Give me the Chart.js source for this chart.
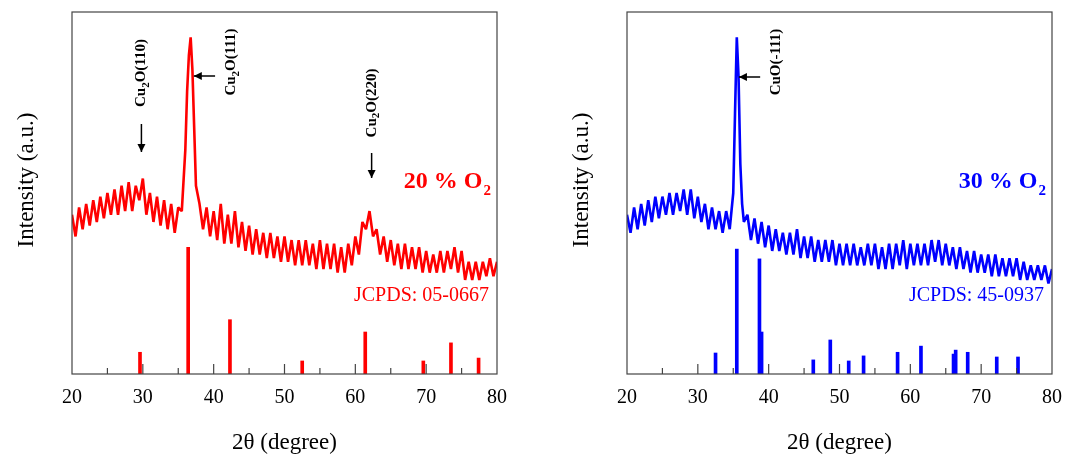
<!DOCTYPE html>
<html>
<head>
<meta charset="utf-8">
<script src="https://cdn.jsdelivr.net/npm/chart.js@4.4.1/dist/chart.umd.min.js"></script>
<style>
  body { margin: 0; background: #fff; width: 1065px; height: 458px; overflow: hidden; position: relative; }
  .box { position: absolute; top: 0; height: 458px; }
</style>
</head>
<body>
<div class="box" style="left:0;width:540px"><canvas id="xrd20"></canvas></div>
<div class="box" style="left:555px;width:510px"><canvas id="xrd30"></canvas></div>
<script>
var xTicks = [20, 30, 40, 50, 60, 70, 80];

// measured scan, 20 % O2 : [2theta, intensity]
var scan20 = [
  [20,44],[20.5,38],[21,46],[21.5,40],[22,47],[22.5,41],[23,48],[23.5,42],[24,49],[24.5,43],
  [25,50],[25.5,44],[26,51],[26.5,44],[27,52],[27.5,45],[28,53],[28.5,45],[29,52],[29.5,48],
  [30,54],[30.5,44],[31,50],[31.5,42],[32,49],[32.5,41],[33,48],[33.5,40],[34,47],[34.5,39],
  [35,46],[35.5,45],[36,62],[36.25,78],[36.5,88],[36.75,93],[37,84],[37.25,68],[37.5,52],[38,47],
  [38.5,40],[39,46],[39.5,38],[40,45],[40.5,37],[41,47],[41.5,36],[42,44],[42.5,36],[43,45],
  [43.5,35],[44,42],[44.5,34],[45,41],[45.5,33],[46,40],[46.5,33],[47,39],[47.5,32],[48,39],
  [48.5,32],[49,38],[49.5,31],[50,38],[50.5,31],[51,37],[51.5,30],[52,37],[52.5,30],[53,37],
  [53.5,30],[54,36],[54.5,29],[55,37],[55.5,29],[56,36],[56.5,29],[57,36],[57.5,28],[58,35],
  [58.5,28],[59,36],[59.5,30],[60,38],[60.5,33],[61,42],[61.5,40],[62,45],[62.5,38],[63,40],
  [63.5,33],[64,38],[64.5,31],[65,37],[65.5,30],[66,36],[66.5,29],[67,36],[67.5,29],[68,35],
  [68.5,29],[69,35],[69.5,28],[70,34],[70.5,28],[71,33],[71.5,28],[72,34],[72.5,28],[73,34],
  [73.5,29],[74,35],[74.5,28],[75,34],[75.5,26],[76,31],[76.5,26],[77,31],[77.5,26],[78,31],
  [78.5,27],[79,32],[79.5,27],[80,31]
];
// JCPDS 05-0667 reference lines
var ref20 = [[29.6,6],[36.4,35],[42.3,15],[52.5,3.6],[61.4,11.6],[69.6,3.6],[73.5,8.6],[77.4,4.4]];

// measured scan, 30 % O2
var scan30 = [
  [20,44],[20.5,39],[21,46],[21.5,40],[22,47],[22.5,41],[23,48],[23.5,42],[24,49],[24.5,43],
  [25,49],[25.5,44],[26,50],[26.5,44],[27,50],[27.5,45],[28,51],[28.5,44],[29,51],[29.5,43],
  [30,49],[30.5,42],[31,47],[31.5,40],[32,46],[32.5,40],[33,45],[33.5,39],[34,45],[34.5,40],
  [35,50],[35.25,72],[35.5,93],[35.75,82],[36,58],[36.25,47],[36.5,42],[37,44],[37.5,37],[38,43],
  [38.5,36],[39,42],[39.5,35],[40,41],[40.5,34],[41,40],[41.5,34],[42,39],[42.5,33],[43,39],
  [43.5,33],[44,40],[44.5,32],[45,38],[45.5,32],[46,38],[46.5,31],[47,37],[47.5,31],[48,37],
  [48.5,31],[49,37],[49.5,30],[50,36],[50.5,30],[51,36],[51.5,30],[52,36],[52.5,30],[53,35],
  [53.5,30],[54,36],[54.5,30],[55,36],[55.5,29],[56,35],[56.5,29],[57,36],[57.5,29],[58,36],
  [58.5,30],[59,37],[59.5,29],[60,36],[60.5,30],[61,36],[61.5,30],[62,36],[62.5,30],[63,37],
  [63.5,31],[64,37],[64.5,30],[65,36],[65.5,30],[66,35],[66.5,29],[67,35],[67.5,29],[68,34],
  [68.5,28],[69,34],[69.5,28],[70,33],[70.5,28],[71,33],[71.5,27],[72,33],[72.5,27],[73,32],
  [73.5,27],[74,32],[74.5,27],[75,32],[75.5,26],[76,31],[76.5,26],[77,30],[77.5,26],[78,30],
  [78.5,26],[79,30],[79.5,25],[80,29]
];
// JCPDS 45-0937 reference lines
var ref30 = [[32.5,5.8],[35.5,34.5],[38.7,31.8],[39.0,11.6],[46.3,3.9],[48.7,9.4],[51.3,3.6],[53.4,5],
  [58.2,6],[61.5,7.7],[66.1,5.5],[66.4,6.6],[68.1,6],[72.2,4.7],[75.2,4.7]];

var serif = '"Liberation Serif", "DejaVu Serif", serif';

function toXY(list) { return list.map(p => ({ x: p[0], y: p[1] })); }

// frame, ticks, labels, arrows
var decoPlugin = {
  id: 'deco',
  afterDraw: function(chart) {
    var o = chart.options.plugins.deco;
    var ctx = chart.ctx, a = chart.chartArea, xs = chart.scales.x;
    ctx.save();
    ctx.strokeStyle = '#444'; ctx.lineWidth = 1.2;
    ctx.strokeRect(a.left, a.top, a.right - a.left, a.bottom - a.top);
    for (var t = 25; t < 80; t += 5) {
      var px = xs.getPixelForValue(t);
      ctx.beginPath(); ctx.moveTo(px, a.bottom); ctx.lineTo(px, a.bottom - (t % 10 ? 6 : 10)); ctx.stroke();
    }
    ctx.fillStyle = '#000'; ctx.textAlign = 'center'; ctx.textBaseline = 'middle';
    ctx.font = '20px ' + serif;
    xTicks.forEach(function(t) { ctx.fillText(t, xs.getPixelForValue(t), a.bottom + 24); });
    ctx.font = '23px ' + serif;
    ctx.fillText('2\u03b8 (degree)', (a.left + a.right) / 2, 443);
    ctx.save(); ctx.translate(27, 180); ctx.rotate(-Math.PI / 2);
    ctx.fillText('Intensity (a.u.)', 0, 0); ctx.restore();

    // sample label and card number
    ctx.fillStyle = o.color; ctx.textAlign = 'right';
    ctx.font = 'bold 15px ' + serif;
    ctx.fillText('2', a.right - 6, 191);
    var sw = ctx.measureText('2').width;
    ctx.font = 'bold 24px ' + serif;
    ctx.fillText(o.pct + ' % O', a.right - 7 - sw, 182);
    ctx.font = '20px ' + serif;
    ctx.fillText(o.card, a.right - 8, 296);

    // peak annotations
    ctx.fillStyle = '#000'; ctx.strokeStyle = '#000'; ctx.lineWidth = 1.5;
    o.notes.forEach(function(n) {
      var px = xs.getPixelForValue(n.x);
      ctx.save(); ctx.translate(n.tx !== undefined ? xs.getPixelForValue(n.tx) : px, n.cy); ctx.rotate(-Math.PI / 2);
      var w = 0;
      n.parts.forEach(function(p) { ctx.font = (p.sub ? 'bold 11px ' : 'bold 15px ') + serif; w += ctx.measureText(p.t).width; });
      var cx = -w / 2;
      ctx.textAlign = 'left';
      n.parts.forEach(function(p) {
        ctx.font = (p.sub ? 'bold 11px ' : 'bold 15px ') + serif;
        ctx.fillText(p.t, cx, p.sub ? 5 : 0);
        cx += ctx.measureText(p.t).width;
      });
      ctx.restore();
      ctx.beginPath();
      if (n.dir === 'down') {
        ctx.moveTo(px, n.ay0); ctx.lineTo(px, n.ay1); ctx.stroke();
        ctx.beginPath(); ctx.moveTo(px - 4, n.ay1 - 8); ctx.lineTo(px, n.ay1); ctx.lineTo(px + 4, n.ay1 - 8); ctx.fill();
      } else {
        var x0 = xs.getPixelForValue(n.ax0), x1 = xs.getPixelForValue(n.ax1);
        ctx.moveTo(x0, n.ay0); ctx.lineTo(x1, n.ay0); ctx.stroke();
        ctx.beginPath(); ctx.moveTo(x1 + 8, n.ay0 - 4); ctx.lineTo(x1, n.ay0); ctx.lineTo(x1 + 8, n.ay0 + 4); ctx.fill();
      }
    });
    ctx.restore();
  }
};

function makeChart(id, scan, ref, color, padRight, deco) {
  return new Chart(document.getElementById(id), {
    data: {
      datasets: [{
        type: 'line', data: toXY(scan), borderColor: color, borderWidth: 2.6,
        pointRadius: 0, tension: 0, borderJoinStyle: 'bevel'
      }, {
        type: 'bar', data: toXY(ref), backgroundColor: color, barThickness: 3
      }]
    },
    options: {
      responsive: true, maintainAspectRatio: false, animation: false,
      layout: { padding: { left: 72, right: padRight, top: 12, bottom: 84 } },
      scales: {
        x: { type: 'linear', min: 20, max: 80, offset: false, display: false },
        y: { min: 0, max: 100, display: false }
      },
      plugins: { legend: { display: false }, tooltip: { enabled: false }, deco: deco }
    },
    plugins: [decoPlugin]
  });
}

makeChart('xrd20', scan20, ref20, '#ff0000', 43, {
  color: '#ff0000', pct: '20', card: 'JCPDS: 05-0667',
  notes: [
    { x: 29.8, cy: 73, parts: [{t:'Cu'},{t:'2',sub:true},{t:'O(110)'}], dir: 'down', ay0: 124, ay1: 152 },
    { x: 37.2, tx: 42.5, cy: 62, parts: [{t:'Cu'},{t:'2',sub:true},{t:'O(111)'}], dir: 'left', ax0: 40.2, ax1: 37.2, ay0: 76 },
    { x: 62.3, cy: 103, parts: [{t:'Cu'},{t:'2',sub:true},{t:'O(220)'}], dir: 'down', ay0: 153, ay1: 178 }
  ]
});
makeChart('xrd30', scan30, ref30, '#0000ff', 13, {
  color: '#0000ff', pct: '30', card: 'JCPDS: 45-0937',
  notes: [
    { x: 35.8, tx: 41.0, cy: 62, parts: [{t:'CuO(-111)'}], dir: 'left', ax0: 38.8, ax1: 35.8, ay0: 77 }
  ]
});
</script>
</body>
</html>
